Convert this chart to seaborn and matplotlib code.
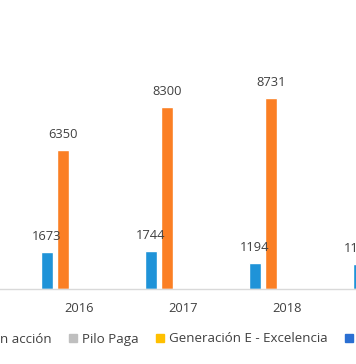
import matplotlib
matplotlib.use("Agg")
import matplotlib.pyplot as plt
import seaborn as sns
import pandas as pd
import numpy as np
from matplotlib.lines import Line2D

years = ["2016", "2017", "2018", "2019"]
series = ["Créditos", "Jóvenes en acción", "Pilo Paga",
          "Generación E - Excelencia", "Generación E - Equidad"]
values = {
    "Créditos": [1673, 1744, 1194, 1150],
    "Jóvenes en acción": [6350, 8300, 8731, 0],
    "Pilo Paga": [0, 0, 0, 0],
    "Generación E - Excelencia": [0, 0, 0, 0],
    "Generación E - Equidad": [0, 0, 0, 0],
}
colors = ["#1f93d8", "#fb7f24", "#bfbfbf", "#ffc000", "#2a6fd2"]

rows = []
for s in series:
    for y, v in zip(years, values[s]):
        rows.append({"year": y, "series": s, "value": v})
df = pd.DataFrame(rows)

sns.set_theme(style="white")
plt.rcParams["font.family"] = ["Open Sans", "DejaVu Sans"]

W, H = 356, 364
fig = plt.figure(figsize=(W / 100, H / 100), dpi=100)
base_px = 289
ax = fig.add_axes([0, (H - base_px) / H, 1, base_px / H])

sns.barplot(data=df, x="year", y="value", hue="series", hue_order=series,
            palette=colors, width=0.77, gap=0.22, ax=ax, legend=False,
            saturation=1, errorbar=None)

for cont, s in zip(ax.containers, series):
    labels = [f"{v:.0f}" if v > 0 else "" for v in values[s]]
    ax.bar_label(cont, labels=labels, padding=6.5, fontsize=9.3,
                 color="#404040", annotation_clip=False)

center_px = 79
step_px = 104
ax.set_xlim(-center_px / step_px, (W - center_px) / step_px)
ax.set_ylim(0, base_px / 0.0219)

for sp in ["left", "right", "top"]:
    ax.spines[sp].set_visible(False)
ax.spines["bottom"].set_color("#d9d9d9")
ax.spines["bottom"].set_linewidth(1.0)
ax.set_yticks([])
ax.set_xlabel("")
ax.set_ylabel("")
ax.tick_params(axis="x", length=0, pad=9.5, labelsize=9.3, labelcolor="#404040")

handles = [Line2D([0], [0], marker="s", linestyle="none", markersize=5.5,
                  markerfacecolor=c, markeredgecolor=c) for c in colors]
leg = fig.legend(handles, series, ncol=5, loc="center left",
                 bbox_to_anchor=(0, (H - 339) / H), frameon=False,
                 fontsize=9.6, labelcolor="#404040", handlelength=0.7,
                 handletextpad=0.35, columnspacing=1.25, borderpad=0,
                 borderaxespad=0)

fig.canvas.draw()
r = fig.canvas.get_renderer()
txt = [t for t in leg.get_texts() if t.get_text() == "Pilo Paga"][0]
bb = txt.get_window_extent(r)
shift = (82 - bb.x0) / W
leg.set_bbox_to_anchor((shift, (H - 339) / H), transform=fig.transFigure)

fig.savefig("out.png", dpi=100)
